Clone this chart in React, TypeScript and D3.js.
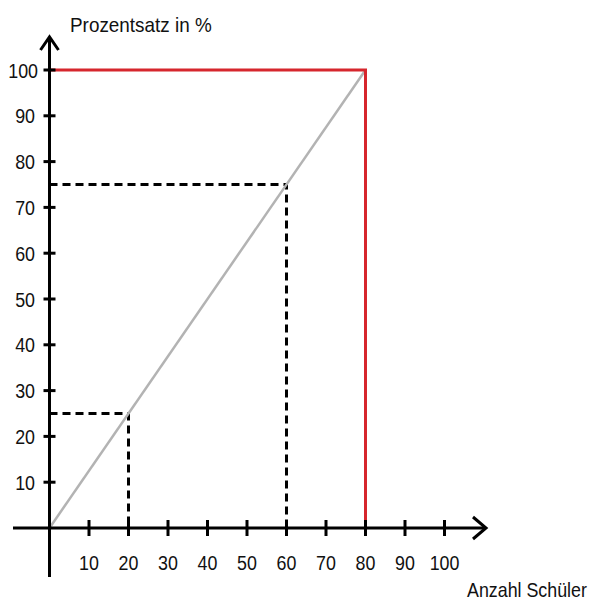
import React from 'react';
import * as d3 from 'd3';

// tick values on both axes
const xTicks = [10, 20, 30, 40, 50, 60, 70, 80, 90, 100];
const yTicks = [10, 20, 30, 40, 50, 60, 70, 80, 90, 100];

// gray proportional line (Schüler -> Prozent)
const diagonal = [
    { x: 0, y: 0 },
    { x: 80, y: 100 },
];

// red bound: 80 Schüler = 100 %
const limit = [
    { x: 0, y: 100 },
    { x: 80, y: 100 },
    { x: 80, y: 0 },
];

// dashed read-off points
const guides = [
    { x: 20, y: 25 },
    { x: 60, y: 75 },
];

const yTitle = 'Prozentsatz in %';
const xTitle = 'Anzahl Schüler';

const FONT = '"Liberation Sans", Arial, sans-serif';

const App: React.FC = () => {
    const width = 598;
    const height = 605;

    const x = d3.scaleLinear().domain([0, 100]).range([49.5, 444.5]);
    const y = d3.scaleLinear().domain([0, 100]).range([528, 70]);

    const line = d3.line<{ x: number; y: number }>()
        .x(d => x(d.x))
        .y(d => y(d.y));

    const x0 = x(0);
    const y0 = y(0);

    // slightly condensed labels, like the original picture
    const label = (tx: number, ty: number, text: string, anchor: string, sx = 0.85) => (
        <g transform={`translate(${tx},${ty}) scale(${sx},1)`}>
            <text x={0} y={0} textAnchor={anchor} fontFamily={FONT} fontSize={21} fill="#111">
                {text}
            </text>
        </g>
    );

    return (
        <svg
            width={width}
            height={height}
            style={{ position: 'absolute', left: 0, top: 0, background: '#fff' }}
        >
            {/* dashed guides */}
            {guides.map((g, i) => (
                <path
                    key={i}
                    d={line([{ x: 0, y: g.y }, { x: g.x, y: g.y }, { x: g.x, y: 0 }]) || ''}
                    fill="none"
                    stroke="#000"
                    strokeWidth={3}
                    strokeDasharray="8,5"
                />
            ))}

            {/* proportional line */}
            <path d={line(diagonal) || ''} fill="none" stroke="#b3b3b3" strokeWidth={2.5} />

            {/* red limit */}
            <path d={line(limit) || ''} fill="none" stroke="#d6262d" strokeWidth={3} />

            {/* axes */}
            <line x1={13} x2={486} y1={y0} y2={y0} stroke="#000" strokeWidth={3} />
            <line x1={x0} x2={x0} y1={577} y2={37} stroke="#000" strokeWidth={3} />
            <polyline points={`${x0 - 9},50 ${x0},37 ${x0 + 9},50`} fill="none" stroke="#000" strokeWidth={3} />
            <polyline points={`473,${y0 - 11} 486,${y0} 473,${y0 + 11}`} fill="none" stroke="#000" strokeWidth={3} />

            {/* x ticks */}
            {xTicks.map(t => (
                <g key={`x${t}`}>
                    <line x1={x(t)} x2={x(t)} y1={y0 - 8} y2={y0 + 8} stroke="#000" strokeWidth={3} />
                    {label(x(t), 570, String(t), 'middle')}
                </g>
            ))}

            {/* y ticks */}
            {yTicks.map(t => (
                <g key={`y${t}`}>
                    <line x1={x0 - 6} x2={x0 + 6} y1={y(t)} y2={y(t)} stroke="#000" strokeWidth={3} />
                    {label(t === 100 ? 38 : 35, y(t) + 7.5, String(t), 'end')}
                </g>
            ))}

            {/* axis titles */}
            {label(70, 32, yTitle, 'start', 0.9)}
            {label(467, 597, xTitle, 'start', 0.85)}
        </svg>
    );
};

export default App;
